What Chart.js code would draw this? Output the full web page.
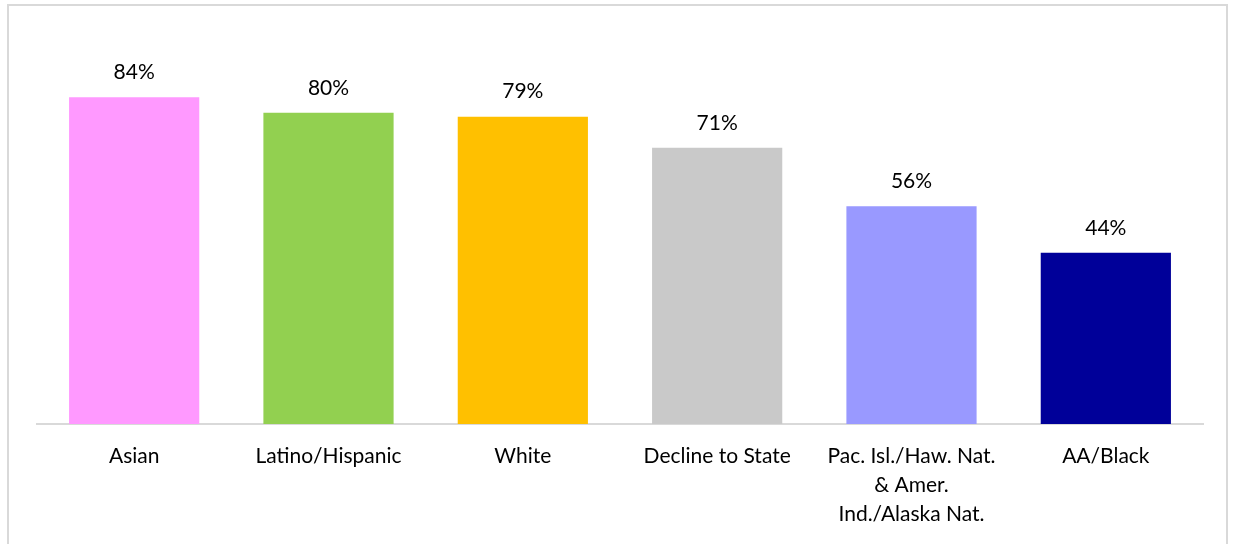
<!DOCTYPE html>
<html>
<head>
<meta charset="utf-8">
<script src="https://cdn.jsdelivr.net/npm/chart.js@4/dist/chart.umd.min.js"></script>
<style>
  html, body { margin: 0; padding: 0; background: #fff; overflow: hidden; }
  #wrap { position: relative; width: 1233px; height: 544px; }
  #frame { position: absolute; left: 7px; top: 4px; width: 1221px; height: 560px; border: 2px solid #d9d9d9; box-sizing: border-box; }
  canvas { position: absolute; left: 0; top: 0; }
</style>
</head>
<body>
<div id="wrap">
  <div id="frame"></div>
  <canvas id="chart" width="1233" height="544"></canvas>
</div>
<script>
// chart data
const categories = ['Asian', 'Latino/Hispanic', 'White', 'Decline to State',
  ['Pac. Isl./Haw. Nat.', '& Amer.', 'Ind./Alaska Nat.'], 'AA/Black'];
const values = [84, 80, 79, 71, 56, 44];
const barColors = ['#FF99FF', '#92D050', '#FFC000', '#C9C9C9', '#9999FF', '#000099'];

const FONT = 'Lato, "Open Sans", sans-serif';

// draws the percentage over each bar
const valueLabels = {
  id: 'valueLabels',
  afterDatasetsDraw(chart) {
    const ctx = chart.ctx;
    const meta = chart.getDatasetMeta(0);
    ctx.save();
    ctx.font = '21px ' + FONT;
    ctx.fillStyle = '#000';
    ctx.textAlign = 'center';
    ctx.textBaseline = 'middle';
    meta.data.forEach((bar, i) => {
      ctx.fillText(values[i] + '%', bar.x, bar.y - 25);
    });
    ctx.restore();
  }
};

new Chart(document.getElementById('chart').getContext('2d'), {
  type: 'bar',
  data: {
    labels: categories,
    datasets: [{
      data: values,
      backgroundColor: barColors,
      barPercentage: 0.67,
      categoryPercentage: 1
    }]
  },
  options: {
    responsive: false,
    animation: false,
    layout: { padding: { left: 37, right: 30, top: 35, bottom: 0 } },
    plugins: { legend: { display: false }, tooltip: { enabled: false } },
    scales: {
      x: {
        grid: { display: false, drawTicks: false },
        border: { display: true, color: '#d9d9d9', width: 2 },
        ticks: {
          color: '#000',
          padding: 18,
          maxRotation: 0,
          autoSkip: false,
          font: { family: FONT, size: 21, lineHeight: 1.38 }
        },
        afterFit(scale) { scale.height = 120; }
      },
      y: {
        display: false,
        min: 0,
        max: 100
      }
    }
  },
  plugins: [valueLabels]
});
</script>
</body>
</html>
